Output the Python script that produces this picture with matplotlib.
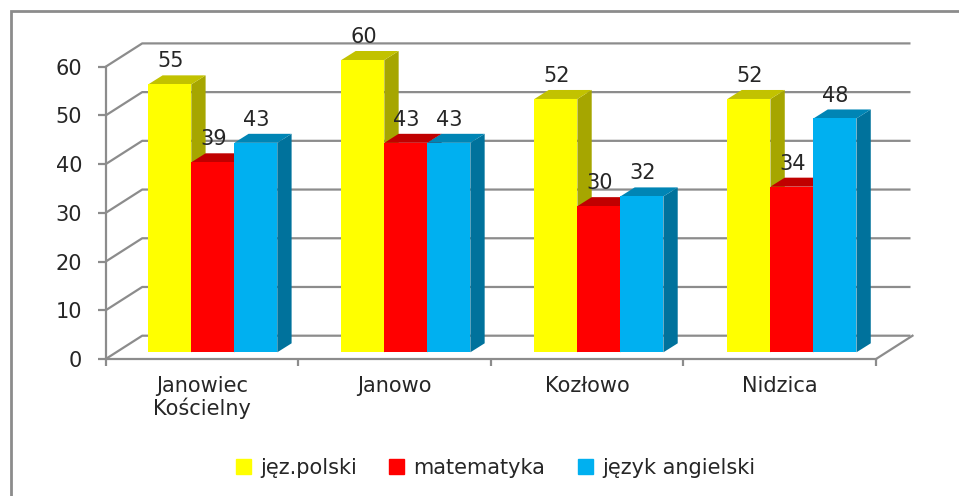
import matplotlib
matplotlib.use("Agg")
import matplotlib.pyplot as plt
from matplotlib.lines import Line2D
from matplotlib.patches import Rectangle

categories = ["Janowiec\nKościelny", "Janowo", "Kozłowo", "Nidzica"]
series_names = ["jęz.polski", "matematyka", "język angielski"]
polski = [55, 60, 52, 52]
matematyka = [39, 43, 30, 34]
angielski = [43, 43, 32, 48]
y_ticks = [0, 10, 20, 30, 40, 50, 60]

front_colors = ["#FFFF00", "#FF0000", "#00B0F0"]
top_colors = ["#C2C200", "#C00000", "#0085B5"]
side_colors = ["#A6A600", "#A60000", "#00729C"]
GRID = "#8C8C8C"
TEXT = "#262626"
FS = 15

W, H = 959, 496
plt.rcParams["font.family"] = "DejaVu Sans"
fig = plt.figure(figsize=(W / 100, H / 100), dpi=100, facecolor="white")

# plot plane in pixels
L, R, B, T = 105.7, 876.0, 359.0, 66.7
ax = fig.add_axes([L / W, 1 - B / H, (R - L) / W, (B - T) / H])
ax.set_xlim(0, 4)
ax.set_ylim(0, 60)
ax.patch.set_alpha(0)

px_x = 4 / (R - L)
px_y = 60 / (B - T)
wall_dx, wall_dy = 36.5 * px_x, 23.3 * px_y
bar_dx, bar_dy = 14.3 * px_x, 9.0 * px_y
base = 6.7 * px_y
bar_w = 43.0 * px_x
first = (148.3 - L) * px_x

# walls / floor
for v in y_ticks:
    ax.plot([0, wall_dx, 4 + wall_dx - 2 * px_x], [v, v + wall_dy, v + wall_dy],
            color=GRID, lw=1.6, clip_on=False, zorder=1, solid_capstyle="butt")
ax.plot([4, 4 + wall_dx], [0, wall_dy], color=GRID, lw=1.6, clip_on=False, zorder=1)

# bars
z = 2
for s, vals in enumerate([polski, matematyka, angielski]):
    for c, v in enumerate(vals):
        x0 = c + first + s * bar_w + 0.0025 * c
        x1 = x0 + bar_w
        y1 = base + v
        ax.fill([x1, x1 + bar_dx, x1 + bar_dx, x1],
                [base, base + bar_dy, y1 + bar_dy, y1],
                color=side_colors[s], lw=0, clip_on=False, zorder=z)
        ax.fill([x0, x0 + bar_dx, x1 + bar_dx, x1],
                [y1, y1 + bar_dy, y1 + bar_dy, y1],
                color=top_colors[s], lw=0, clip_on=False, zorder=z)
        ax.bar(x0, v, bar_w, bottom=base, align="edge", color=front_colors[s],
               lw=0, clip_on=False, zorder=z + 0.1)
        ax.annotate(str(v), ((x0 + x1) / 2, y1), xytext=(0.5, 16.5),
                    textcoords="offset points", ha="center", va="center",
                    fontsize=FS, color=TEXT, zorder=20, annotation_clip=False)
    z += 1

# axes
for k in ("top", "right"):
    ax.spines[k].set_visible(False)
for k in ("left", "bottom"):
    ax.spines[k].set_color(GRID)
    ax.spines[k].set_linewidth(1.6)
    ax.spines[k].set_zorder(1.5)
ax.set_yticks(y_ticks)
ax.set_xticks([0, 1, 2, 3, 4])
ax.set_xticklabels([])
ax.set_xticks([0.5, 1.5, 2.5, 3.5], categories, minor=True, fontsize=FS, color=TEXT, linespacing=1.1)
ax.tick_params(axis="x", which="major", length=5, width=1.6, color=GRID, direction="out")
ax.tick_params(axis="x", which="minor", length=0, pad=12)
ax.tick_params(axis="y", length=6, width=1.6, color=GRID, direction="out", pad=11,
               labelsize=FS, labelcolor=TEXT)

# legend
handles = [Rectangle((0, 0), 1, 1, color=c) for c in front_colors]
fig.legend(handles, series_names, loc="center", bbox_to_anchor=(495.5 / W, 1 - 467.5 / H),
           ncol=3, frameon=False, fontsize=FS, labelcolor=TEXT, handlelength=0.72,
           handleheight=0.7, handletextpad=0.45, columnspacing=1.55)

# outer border: only top and left edges are visible
fig.add_artist(Line2D([11 / W, 11 / W, 1], [0, 1 - 11 / H, 1 - 11 / H],
                      transform=fig.transFigure, color=GRID, lw=2.0, solid_joinstyle="miter"))

fig.savefig("out.png", dpi=100)
